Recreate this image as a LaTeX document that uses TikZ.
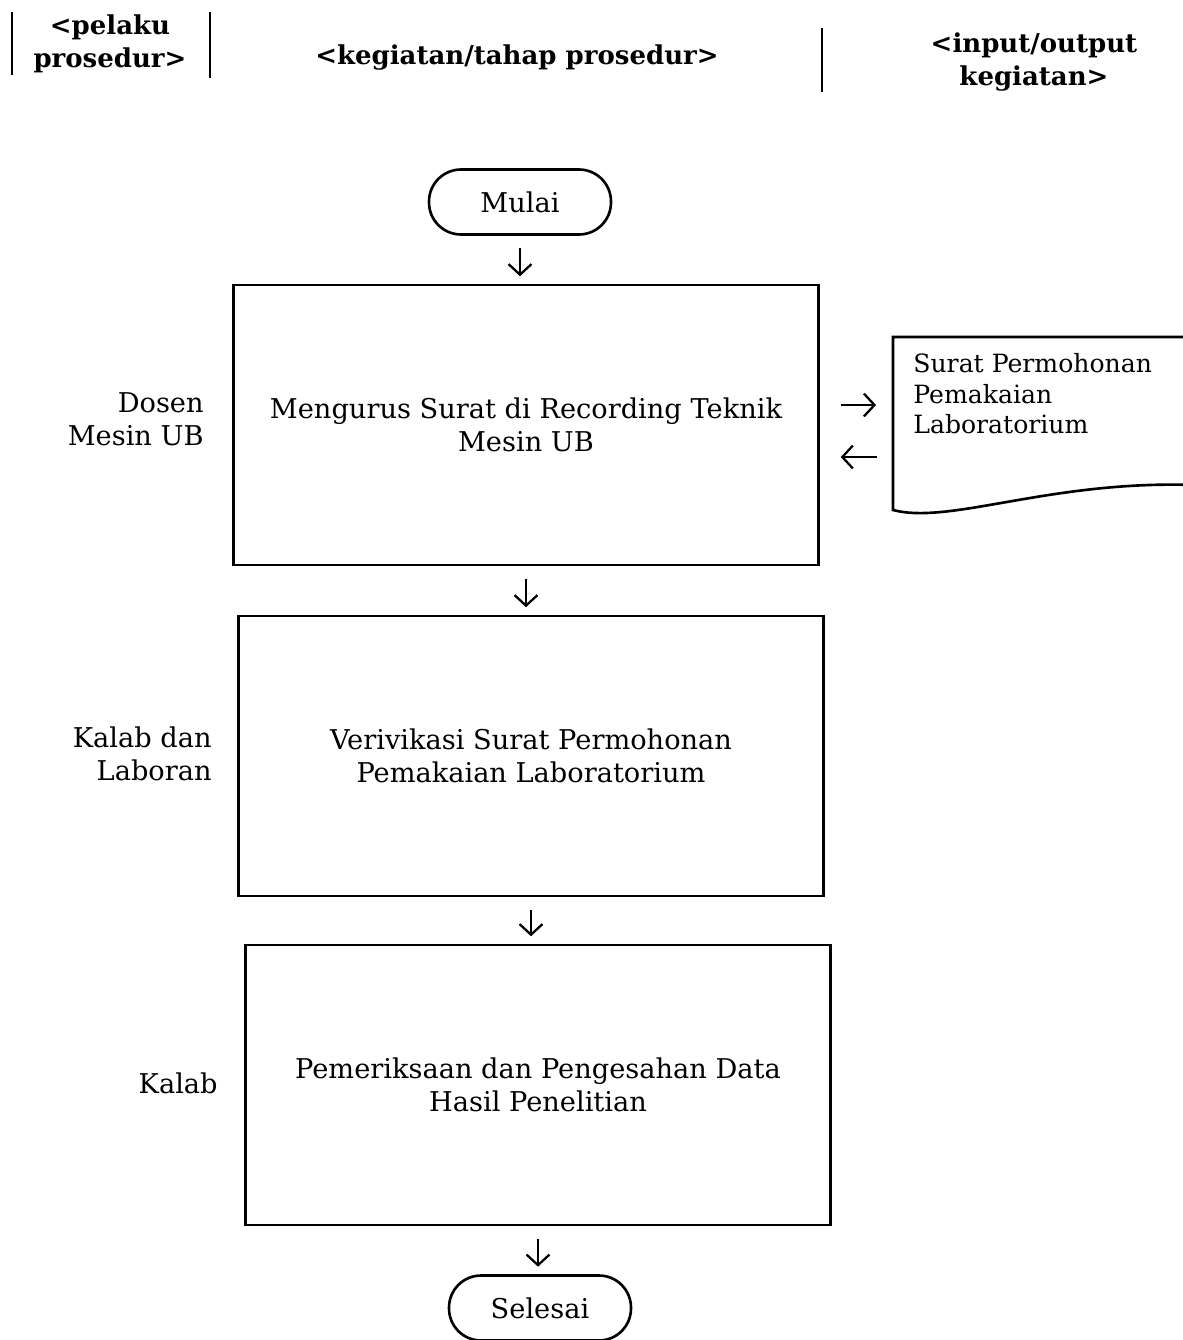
\documentclass[tikz,border=0pt]{standalone}
\usepackage{fontspec}
\setmainfont{DejaVu Serif}
\usetikzlibrary{positioning,arrows.meta}

\tikzset{
  garis/.style={line width=1.5pt},
  kegiatan/.style={draw, garis, minimum width=11.7cm, minimum height=5.6cm, align=center},
  terminal/.style={draw, garis, rounded corners=0.64cm, minimum width=3.64cm, minimum height=1.3cm},
  pelaku/.style={anchor=east, align=right, inner sep=0pt},
  judul/.style={align=center, font=\fontsize{14.8}{18.5}\selectfont\bfseries},
  panah/.style={-{Straight Barb[length=6pt,width=13pt]}, line width=1.3pt, shorten <=0.25cm, shorten >=0.15cm}
}

\begin{document}
\begin{tikzpicture}[x=0.02cm, y=-0.02cm, font=\fontsize{15.5}{18.7}\selectfont]
    \useasboundingbox (0,0) rectangle (1183,1340);
    \clip (0,0) rectangle (1183,1340);

    % Header
    \draw[line width=1.2pt] (12,12) -- (12,75);
    \draw[line width=1.2pt] (210,12) -- (210,78);
    \draw[line width=1.2pt] (822,28) -- (822,92);
    \node[judul] (hpelaku) at (110,44) {<pelaku\\prosedur>};
    \node[judul] (hkegiatan) at (517,58) {<kegiatan/tahap prosedur>};
    \node[judul] (hio) at (1034,62) {<input/output\\kegiatan>};

    % Kegiatan
    \node[terminal] (mulai) at (520,202) {Mulai};
    \node[kegiatan] (urus) at (526,425) {Mengurus Surat di Recording Teknik\\Mesin UB};
    \node[kegiatan] (verif) at (531,756) {Verivikasi Surat Permohonan\\Pemakaian Laboratorium};
    \node[kegiatan] (periksa) at (538,1085) {Pemeriksaan dan Pengesahan Data\\Hasil Penelitian};
    \node[terminal] (selesai) at (540,1308) {Selesai};

    % Pelaku
    \node[pelaku] (dosen) at (204,419) {Dosen\\Mesin UB};
    \node[pelaku] (kalablab) at (212,754) {Kalab dan\\Laboran};
    \node[pelaku] (kalab) at (218,1083) {Kalab};

    % Dokumen
    \draw[garis] (1195,337) -- (893,337) -- (893,510)
      .. controls (950,525) and (1050,480) .. (1195,485);
    \node[anchor=north west, inner sep=0pt, align=left, font=\fontsize{14.3}{17.5}\selectfont] (surat) at (913,353)
      {Surat Permohonan\\Pemakaian\\Laboratorium};
    \coordinate (dokkiri) at (893,337);
    \coordinate (kirim) at (0,405);
    \coordinate (terima) at (0,457);

    % Arrows
    \draw[panah] (mulai.south) -- (mulai.south |- urus.north);
    \draw[panah] (urus.south) -- (urus.south |- verif.north);
    \draw[panah] (verif.south) -- (verif.south |- periksa.north);
    \draw[panah] (periksa.south) -- (periksa.south |- selesai.north);
    \draw[panah, shorten <=0.42cm, shorten >=0.34cm] (urus.east |- kirim) -- (dokkiri |- kirim);
    \draw[panah, shorten <=0.32cm, shorten >=0.42cm] (dokkiri |- terima) -- (urus.east |- terima);

\end{tikzpicture}
\end{document}
